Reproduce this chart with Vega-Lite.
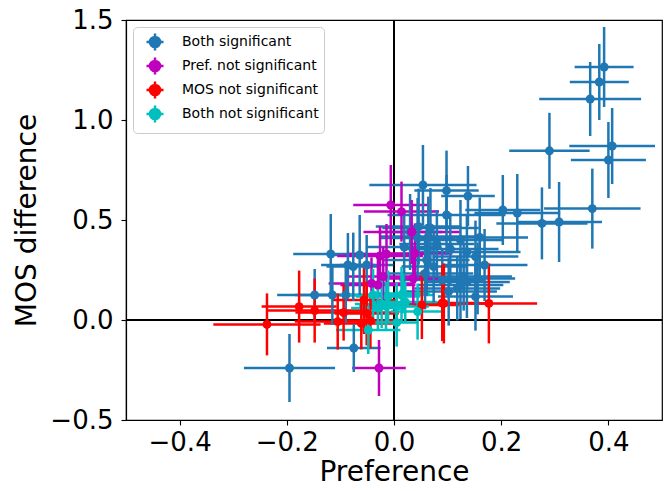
{
  "$schema": "https://vega.github.io/schema/vega-lite/v6.json",
  "width": 536,
  "height": 400,
  "autosize": {"type": "none"},
  "padding": {"left": 126, "top": 20, "right": 3, "bottom": 71},
  "config": {
    "font": "DejaVu Sans",
    "view": {"stroke": "black", "strokeWidth": 1.2},
    "axis": {
      "grid": false, "domainColor": "black", "tickColor": "black", "tickSize": 5, "tickWidth": 1.1,
      "domainWidth": 1.2,
      "labelFontSize": 26, "titleFontSize": 28, "labelColor": "black", "titleColor": "black",
      "titleFontWeight": "normal", "labelFont": "DejaVu Sans", "titleFont": "DejaVu Sans"
    }
  },
  "data": {
    "values": [
      {"cat": "Both significant", "x": 0.392, "y": 1.265, "ex": 0.055, "ey": 0.2},
      {"cat": "Both significant", "x": 0.383, "y": 1.19, "ex": 0.055, "ey": 0.19},
      {"cat": "Both significant", "x": 0.366, "y": 1.105, "ex": 0.095, "ey": 0.185},
      {"cat": "Both significant", "x": 0.29, "y": 0.846, "ex": 0.075, "ey": 0.19},
      {"cat": "Both significant", "x": 0.407, "y": 0.87, "ex": 0.08, "ey": 0.19},
      {"cat": "Both significant", "x": 0.40, "y": 0.80, "ex": 0.07, "ey": 0.19},
      {"cat": "Both significant", "x": 0.37, "y": 0.557, "ex": 0.09, "ey": 0.2},
      {"cat": "Both significant", "x": 0.203, "y": 0.55, "ex": 0.07, "ey": 0.175},
      {"cat": "Both significant", "x": 0.23, "y": 0.535, "ex": 0.08, "ey": 0.195},
      {"cat": "Both significant", "x": 0.276, "y": 0.483, "ex": 0.085, "ey": 0.18},
      {"cat": "Both significant", "x": 0.308, "y": 0.49, "ex": 0.08, "ey": 0.2},
      {"cat": "Both significant", "x": -0.195, "y": -0.24, "ex": 0.085, "ey": 0.17},
      {"cat": "Both significant", "x": -0.075, "y": -0.14, "ex": 0.05, "ey": 0.12},
      {"cat": "Both significant", "x": -0.148, "y": 0.125, "ex": 0.07, "ey": 0.13},
      {"cat": "Both significant", "x": -0.115, "y": 0.125, "ex": 0.07, "ey": 0.15},
      {"cat": "Both significant", "x": -0.09, "y": 0.125, "ex": 0.06, "ey": 0.14},
      {"cat": "Both significant", "x": -0.118, "y": 0.33, "ex": 0.07, "ey": 0.2},
      {"cat": "Both significant", "x": -0.086, "y": 0.275, "ex": 0.05, "ey": 0.16},
      {"cat": "Both significant", "x": -0.064, "y": 0.325, "ex": 0.05, "ey": 0.2},
      {"cat": "Both significant", "x": -0.076, "y": 0.267, "ex": 0.05, "ey": 0.17},
      {"cat": "Both significant", "x": -0.051, "y": 0.275, "ex": 0.05, "ey": 0.15},
      {"cat": "Both significant", "x": 0.054, "y": 0.675, "ex": 0.1, "ey": 0.2},
      {"cat": "Both significant", "x": 0.098, "y": 0.647, "ex": 0.06, "ey": 0.2},
      {"cat": "Both significant", "x": 0.138, "y": 0.62, "ex": 0.05, "ey": 0.15},
      {"cat": "Both significant", "x": 0.046, "y": 0.467, "ex": 0.08, "ey": 0.19},
      {"cat": "Both significant", "x": 0.068, "y": 0.46, "ex": 0.09, "ey": 0.2},
      {"cat": "Both significant", "x": 0.098, "y": 0.525, "ex": 0.11, "ey": 0.2},
      {"cat": "Both significant", "x": 0.044, "y": 0.41, "ex": 0.07, "ey": 0.2},
      {"cat": "Both significant", "x": 0.064, "y": 0.417, "ex": 0.09, "ey": 0.2},
      {"cat": "Both significant", "x": 0.124, "y": 0.40, "ex": 0.08, "ey": 0.2},
      {"cat": "Both significant", "x": 0.16, "y": 0.413, "ex": 0.09, "ey": 0.2},
      {"cat": "Both significant", "x": 0.105, "y": 0.355, "ex": 0.09, "ey": 0.18},
      {"cat": "Both significant", "x": 0.136, "y": 0.34, "ex": 0.1, "ey": 0.18},
      {"cat": "Both significant", "x": 0.152, "y": 0.317, "ex": 0.08, "ey": 0.18},
      {"cat": "Both significant", "x": 0.169, "y": 0.275, "ex": 0.08, "ey": 0.18},
      {"cat": "Both significant", "x": 0.061, "y": 0.30, "ex": 0.08, "ey": 0.18},
      {"cat": "Both significant", "x": 0.074, "y": 0.267, "ex": 0.06, "ey": 0.18},
      {"cat": "Both significant", "x": 0.058, "y": 0.233, "ex": 0.09, "ey": 0.18},
      {"cat": "Both significant", "x": 0.13, "y": 0.217, "ex": 0.09, "ey": 0.17},
      {"cat": "Both significant", "x": 0.156, "y": 0.208, "ex": 0.07, "ey": 0.18},
      {"cat": "Both significant", "x": 0.124, "y": 0.175, "ex": 0.08, "ey": 0.17},
      {"cat": "Both significant", "x": 0.102, "y": 0.142, "ex": 0.09, "ey": 0.17},
      {"cat": "Both significant", "x": 0.118, "y": 0.158, "ex": 0.08, "ey": 0.16},
      {"cat": "Both significant", "x": 0.152, "y": 0.117, "ex": 0.07, "ey": 0.17},
      {"cat": "Both significant", "x": 0.136, "y": 0.19, "ex": 0.08, "ey": 0.18},
      {"cat": "Both significant", "x": 0.03, "y": 0.44, "ex": 0.06, "ey": 0.19},
      {"cat": "Both significant", "x": 0.019, "y": 0.365, "ex": 0.07, "ey": 0.18},
      {"cat": "Both significant", "x": 0.08, "y": 0.38, "ex": 0.07, "ey": 0.17},
      {"cat": "Both significant", "x": 0.09, "y": 0.2, "ex": 0.08, "ey": 0.15},
      {"cat": "Pref. not significant", "x": -0.006, "y": 0.575, "ex": 0.07, "ey": 0.2},
      {"cat": "Pref. not significant", "x": 0.014, "y": 0.542, "ex": 0.07, "ey": 0.15},
      {"cat": "Pref. not significant", "x": 0.033, "y": 0.44, "ex": 0.09, "ey": 0.16},
      {"cat": "Pref. not significant", "x": -0.014, "y": 0.33, "ex": 0.07, "ey": 0.15},
      {"cat": "Pref. not significant", "x": -0.026, "y": 0.32, "ex": 0.08, "ey": 0.15},
      {"cat": "Pref. not significant", "x": 0.039, "y": 0.333, "ex": 0.07, "ey": 0.15},
      {"cat": "Pref. not significant", "x": -0.02, "y": 0.217, "ex": 0.07, "ey": 0.15},
      {"cat": "Pref. not significant", "x": 0.036, "y": 0.208, "ex": 0.06, "ey": 0.13},
      {"cat": "Pref. not significant", "x": -0.042, "y": 0.183, "ex": 0.08, "ey": 0.13},
      {"cat": "Pref. not significant", "x": -0.03, "y": 0.175, "ex": 0.07, "ey": 0.14},
      {"cat": "Pref. not significant", "x": -0.028, "y": -0.24, "ex": 0.05, "ey": 0.14},
      {"cat": "MOS not significant", "x": -0.237, "y": -0.022, "ex": 0.1, "ey": 0.155},
      {"cat": "MOS not significant", "x": -0.177, "y": 0.067, "ex": 0.07, "ey": 0.18},
      {"cat": "MOS not significant", "x": -0.148, "y": 0.047, "ex": 0.09, "ey": 0.16},
      {"cat": "MOS not significant", "x": -0.094, "y": 0.037, "ex": 0.09, "ey": 0.14},
      {"cat": "MOS not significant", "x": -0.105, "y": -0.008, "ex": 0.08, "ey": 0.14},
      {"cat": "MOS not significant", "x": -0.056, "y": 0.10, "ex": 0.06, "ey": 0.17},
      {"cat": "MOS not significant", "x": -0.051, "y": 0.033, "ex": 0.06, "ey": 0.16},
      {"cat": "MOS not significant", "x": -0.061, "y": -0.017, "ex": 0.07, "ey": 0.13},
      {"cat": "MOS not significant", "x": -0.044, "y": -0.003, "ex": 0.06, "ey": 0.14},
      {"cat": "MOS not significant", "x": 0.052, "y": 0.075, "ex": 0.07, "ey": 0.17},
      {"cat": "MOS not significant", "x": 0.093, "y": 0.083, "ex": 0.09, "ey": 0.2},
      {"cat": "MOS not significant", "x": 0.177, "y": 0.083, "ex": 0.09, "ey": 0.2},
      {"cat": "MOS not significant", "x": 0.09, "y": 0.085, "ex": 0.07, "ey": 0.19},
      {"cat": "Both not significant", "x": -0.039, "y": 0.125, "ex": 0.06, "ey": 0.13},
      {"cat": "Both not significant", "x": -0.023, "y": 0.08, "ex": 0.05, "ey": 0.12},
      {"cat": "Both not significant", "x": -0.011, "y": 0.117, "ex": 0.06, "ey": 0.13},
      {"cat": "Both not significant", "x": 0.014, "y": 0.125, "ex": 0.06, "ey": 0.14},
      {"cat": "Both not significant", "x": 0.005, "y": 0.067, "ex": 0.06, "ey": 0.12},
      {"cat": "Both not significant", "x": 0.044, "y": 0.042, "ex": 0.05, "ey": 0.14},
      {"cat": "Both not significant", "x": 0.005, "y": -0.013, "ex": 0.04, "ey": 0.12},
      {"cat": "Both not significant", "x": -0.048, "y": -0.05, "ex": 0.06, "ey": 0.12},
      {"cat": "Both not significant", "x": -0.015, "y": 0.07, "ex": 0.05, "ey": 0.12},
      {"cat": "Both not significant", "x": 0.017, "y": 0.133, "ex": 0.05, "ey": 0.1},
      {"cat": "Both not significant", "x": 0.021, "y": 0.09, "ex": 0.06, "ey": 0.1},
      {"cat": "Both not significant", "x": -0.03, "y": 0.06, "ex": 0.05, "ey": 0.11}
    ]
  },
  "encoding": {
    "x": {"field": "x", "type": "quantitative", "title": "Preference",
          "scale": {"domain": [-0.5, 0.5], "nice": false, "zero": false},
          "axis": {"values": [-0.4, -0.2, 0, 0.2, 0.4], "format": ".1f", "labelPadding": 4, "titlePadding": 3}},
    "y": {"field": "y", "type": "quantitative", "title": "MOS difference",
          "scale": {"domain": [-0.5, 1.5], "nice": false, "zero": false},
          "axis": {"values": [-0.5, 0, 0.5, 1, 1.5], "format": ".1f", "labelPadding": 8, "titlePadding": 8}},
    "color": {"field": "cat", "type": "nominal",
              "scale": {"domain": ["Both significant", "Pref. not significant", "MOS not significant", "Both not significant"],
                        "range": ["#1f77b4", "#bf00bf", "#ff0000", "#00bfbf"]},
              "legend": {
                "title": null, "orient": "top-left", "offset": 7,
                "symbolType": "M-1,0L1,0M0,-1L0,1M-0.6,0A0.6,0.6,0,1,1,0.6,0A0.6,0.6,0,1,1,-0.6,0Z",
                "symbolSize": 289, "symbolStrokeWidth": 2.5, "symbolOpacity": 1,
                "labelFontSize": 14, "labelFont": "DejaVu Sans", "labelColor": "black",
                "labelOffset": 17, "rowPadding": -6, "padding": 5, "symbolOffset": 7,
                "strokeColor": "#cccccc", "fillColor": "white", "cornerRadius": 4,
                "encode": {"symbols": {"update": {
                  "stroke": {"scale": "color", "field": "value"},
                  "fill": {"scale": "color", "field": "value"},
                  "strokeWidth": {"value": 2.5},
                  "opacity": {"value": 1}
                }}}
              }}
  },
  "layer": [
    {
      "mark": {"type": "rule", "color": "black", "strokeWidth": 1.5},
      "encoding": {"x": {"datum": 0}, "y": null, "color": null}
    },
    {
      "mark": {"type": "rule", "color": "black", "strokeWidth": 1.5},
      "encoding": {"y": {"datum": 0}, "x": null, "color": null}
    },
    {
      "mark": {"type": "errorbar", "ticks": false, "thickness": 2.5},
      "encoding": {"xError": {"field": "ex"}}
    },
    {
      "mark": {"type": "errorbar", "ticks": false, "thickness": 2.5},
      "encoding": {"yError": {"field": "ey"}}
    },
    {
      "mark": {"type": "point", "filled": true, "size": 80, "opacity": 1}
    }
  ]
}
